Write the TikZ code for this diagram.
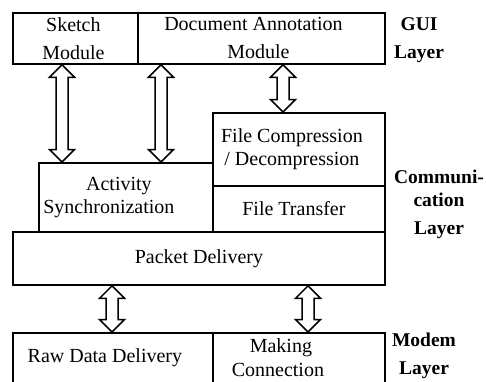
\documentclass[tikz,border=0pt]{standalone}
\usepackage{fontspec}
\setmainfont{Liberation Serif}
\usetikzlibrary{calc}
\tikzstyle{box} = [draw,line width=1.8pt,inner sep=0pt,anchor=north west,align=center,font=\fontsize{20}{23}\selectfont]
\tikzstyle{layer} = [align=center,font=\fontsize{19.5}{23}\selectfont\bfseries]
\tikzstyle{hollow} = [draw,line width=1.5pt,fill=white,line join=miter]
% pushes a text line to the left by half of #1
\newcommand{\sh}[2]{#2\hspace*{#1}}
% hollow two-headed arrow from top point #1 down to bottom point #2
\newcommand{\twoway}[2]{%
	\draw[hollow] let \p1=(#1), \p2=(#2) in
		(\x1,\y1) -- (\x1+12.5pt,\y1-12.5pt) -- (\x1+6pt,\y1-12.5pt)
		-- (\x1+6pt,\y2+12.5pt) -- (\x1+12.5pt,\y2+12.5pt) -- (\x1,\y2)
		-- (\x1-12.5pt,\y2+12.5pt) -- (\x1-6pt,\y2+12.5pt)
		-- (\x1-6pt,\y1-12.5pt) -- (\x1-12.5pt,\y1-12.5pt) -- cycle;}

\begin{document}
\begin{tikzpicture}[x=1pt,y=-1pt]
			\clip (0,0) rectangle (486,381);
			% GUI layer
			\node [box,minimum width=125,minimum height=51](sk) at (12,12){\sh{4pt}{Sketch}\\[5pt]\sh{4pt}{Module}};
			\node [box,minimum width=247,minimum height=51](doc) at (137,12){\sh{16pt}{Document Annotation}\\[5pt]\sh{6pt}{Module}};
			% communication layer
			\node [box,minimum width=172,minimum height=73](fc) at (212,112){\sh{14pt}{File Compression}\\\sh{14pt}{/ Decompression}};
			\node [box,minimum width=172,minimum height=46](ft) at (212,185){\sh{10pt}{File Transfer}};
			\node [box,minimum width=174,minimum height=69](as) at (38,162){\sh{14pt}{Activity}\\\sh{34pt}{Synchronization}};
			\node [box,minimum width=372,minimum height=53](pd) at (12,231){Packet Delivery};
			% modem layer
			\node [box,minimum width=200,minimum height=50](raw) at (12,332){\sh{16pt}{Raw Data Delivery}};
			\node [box,minimum width=172,minimum height=50](mc) at (212,332){\sh{36pt}{Making}\\[1pt]\sh{42pt}{Connection}};
			
			\node [layer](gl) at (419,40){GUI\\[5pt]Layer};
			\node [layer](cl) at (439,204){Communi-\\cation\\[5pt]Layer};
			\node [layer](ml) at (424,356){Modem\\[5pt]Layer};
			
			\coordinate (a1) at ($(sk.south west)+(50,0)$);
			\coordinate (b1) at ($(as.north west)+(24,0)$);
			\coordinate (a2) at ($(doc.south west)+(24,0)$);
			\coordinate (b2) at ($(as.north west)+(123,0)$);
			\coordinate (a3) at ($(doc.south west)+(146,0)$);
			\coordinate (b3) at ($(fc.north west)+(71,0)$);
			\coordinate (a4) at ($(pd.south west)+(100,0)$);
			\coordinate (b4) at ($(raw.north west)+(100,0)$);
			\coordinate (a5) at ($(pd.south west)+(296,0)$);
			\coordinate (b5) at ($(mc.north west)+(96,0)$);
			\twoway{a1}{b1}
			\twoway{a2}{b2}
			\twoway{a3}{b3}
			\twoway{a4}{b4}
			\twoway{a5}{b5}
\end{tikzpicture}
\end{document}
